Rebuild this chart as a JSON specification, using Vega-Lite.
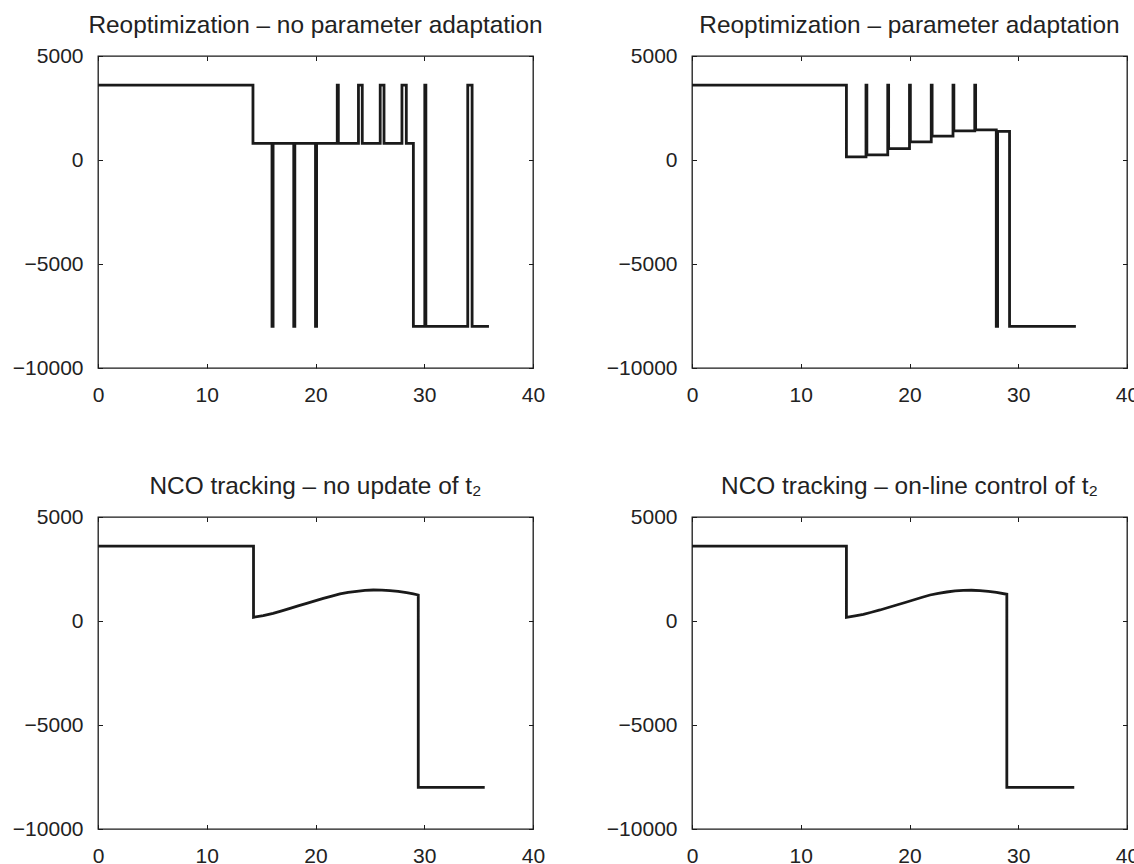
{
  "$schema": "https://vega.github.io/schema/vega-lite/v6.json",
  "background": "white",
  "padding": {"left": 11, "top": 11, "right": 0, "bottom": 0},
  "datasets": {
    "A": [
      {"i":0,"x":0,"y":3600},{"i":1,"x":14.25,"y":3600},{"i":2,"x":14.25,"y":800},{"i":3,"x":16,"y":800},
      {"i":4,"x":16,"y":-8000},{"i":5,"x":16.1,"y":-8000},{"i":6,"x":16.1,"y":800},{"i":7,"x":18,"y":800},
      {"i":8,"x":18,"y":-8000},{"i":9,"x":18.1,"y":-8000},{"i":10,"x":18.1,"y":800},{"i":11,"x":20,"y":800},
      {"i":12,"x":20,"y":-8000},{"i":13,"x":20.1,"y":-8000},{"i":14,"x":20.1,"y":800},{"i":15,"x":22,"y":800},
      {"i":16,"x":22,"y":3600},{"i":17,"x":22.1,"y":3600},{"i":18,"x":22.1,"y":800},{"i":19,"x":23.95,"y":800},
      {"i":20,"x":23.95,"y":3600},{"i":21,"x":24.3,"y":3600},{"i":22,"x":24.3,"y":800},{"i":23,"x":25.95,"y":800},
      {"i":24,"x":25.95,"y":3600},{"i":25,"x":26.3,"y":3600},{"i":26,"x":26.3,"y":800},{"i":27,"x":27.95,"y":800},
      {"i":28,"x":27.95,"y":3600},{"i":29,"x":28.35,"y":3600},{"i":30,"x":28.35,"y":800},{"i":31,"x":29,"y":800},
      {"i":32,"x":29,"y":-8000},{"i":33,"x":30.05,"y":-8000},{"i":34,"x":30.05,"y":3600},{"i":35,"x":30.15,"y":3600},
      {"i":36,"x":30.15,"y":-8000},{"i":37,"x":34,"y":-8000},{"i":38,"x":34,"y":3600},{"i":39,"x":34.4,"y":3600},
      {"i":40,"x":34.4,"y":-8000},{"i":41,"x":35.95,"y":-8000}
    ],
    "B": [
      {"i":0,"x":0,"y":3600},{"i":1,"x":14.2,"y":3600},{"i":2,"x":14.2,"y":150},{"i":3,"x":16,"y":150},
      {"i":4,"x":16,"y":3600},{"i":5,"x":16.08,"y":3600},{"i":6,"x":16.08,"y":250},{"i":7,"x":18,"y":250},
      {"i":8,"x":18,"y":3600},{"i":9,"x":18.08,"y":3600},{"i":10,"x":18.08,"y":550},{"i":11,"x":20,"y":550},
      {"i":12,"x":20,"y":3600},{"i":13,"x":20.08,"y":3600},{"i":14,"x":20.08,"y":870},{"i":15,"x":22,"y":870},
      {"i":16,"x":22,"y":3600},{"i":17,"x":22.08,"y":3600},{"i":18,"x":22.08,"y":1150},{"i":19,"x":24,"y":1150},
      {"i":20,"x":24,"y":3600},{"i":21,"x":24.08,"y":3600},{"i":22,"x":24.08,"y":1400},{"i":23,"x":26,"y":1400},
      {"i":24,"x":26,"y":3600},{"i":25,"x":26.08,"y":3600},{"i":26,"x":26.08,"y":1450},{"i":27,"x":27.98,"y":1450},
      {"i":28,"x":27.98,"y":-8000},{"i":29,"x":28.1,"y":-8000},{"i":30,"x":28.1,"y":1380},{"i":31,"x":29.2,"y":1380},
      {"i":32,"x":29.2,"y":-8000},{"i":33,"x":35.3,"y":-8000}
    ],
    "C": [
      {"i":0,"x":0,"y":3600},{"i":1,"x":14.3,"y":3600},{"i":2,"x":14.3,"y":180},{"i":3,"x":15.2,"y":260},
      {"i":4,"x":16.1,"y":370},{"i":5,"x":16.9,"y":490},{"i":6,"x":17.66,"y":610},{"i":7,"x":18.4,"y":730},
      {"i":8,"x":19.19,"y":850},{"i":9,"x":19.95,"y":970},{"i":10,"x":20.72,"y":1090},{"i":11,"x":21.5,"y":1200},
      {"i":12,"x":22.25,"y":1300},{"i":13,"x":23.0,"y":1375},{"i":14,"x":23.79,"y":1425},{"i":15,"x":24.55,"y":1470},
      {"i":16,"x":25.32,"y":1490},{"i":17,"x":26.1,"y":1485},{"i":18,"x":26.85,"y":1460},{"i":19,"x":27.6,"y":1420},
      {"i":20,"x":28.38,"y":1360},{"i":21,"x":29.0,"y":1305},{"i":22,"x":29.45,"y":1250},{"i":23,"x":29.45,"y":-8000},
      {"i":24,"x":35.56,"y":-8000}
    ],
    "D": [
      {"i":0,"x":0,"y":3600},{"i":1,"x":14.2,"y":3600},{"i":2,"x":14.2,"y":180},{"i":3,"x":15.0,"y":250},
      {"i":4,"x":15.76,"y":320},{"i":5,"x":16.5,"y":420},{"i":6,"x":17.29,"y":530},{"i":7,"x":18.05,"y":650},
      {"i":8,"x":18.82,"y":770},{"i":9,"x":19.6,"y":890},{"i":10,"x":20.35,"y":1010},{"i":11,"x":21.1,"y":1130},
      {"i":12,"x":21.89,"y":1250},{"i":13,"x":22.65,"y":1330},{"i":14,"x":23.42,"y":1394},{"i":15,"x":24.2,"y":1445},
      {"i":16,"x":24.95,"y":1476},{"i":17,"x":25.7,"y":1478},{"i":18,"x":26.48,"y":1460},{"i":19,"x":27.25,"y":1425},
      {"i":20,"x":28.0,"y":1380},{"i":21,"x":28.95,"y":1285},{"i":22,"x":28.95,"y":-8000},{"i":23,"x":35.15,"y":-8000}
    ]
  },
  "columns": 2,
  "bounds": "flush",
  "spacing": {"row": 149, "column": 159},
  "concat": [
    {
      "title": "Reoptimization – no parameter adaptation",
      "width": 435, "height": 312,
      "data": {"name": "A"},
      "layer": [
        {"mark": {"type": "line", "strokeWidth": 2.8, "color": "#1a1a1a", "strokeJoin": "miter", "strokeCap": "butt"},
         "encoding": {
           "x": {"field": "x", "type": "quantitative", "scale": {"domain": [0, 40], "nice": false}, "axis": {"orient": "bottom", "values": [0,10,20,30,40], "labelPadding": 21}},
           "y": {"field": "y", "type": "quantitative", "scale": {"domain": [-10000, 5000], "nice": false}, "axis": {"orient": "left", "values": [-10000,-5000,0,5000], "format": "d", "labelPadding": 19.5}},
           "order": {"field": "i"}
         }},
        {"mark": {"type": "point", "opacity": 0},
         "encoding": {
           "x": {"field": "x", "type": "quantitative", "axis": {"orient": "top", "values": [0,10,20,30,40], "labels": false}},
           "y": {"field": "y", "type": "quantitative", "axis": {"orient": "right", "values": [-10000,-5000,0,5000], "labels": false}}
         }}
      ],
      "resolve": {"axis": {"x": "independent", "y": "independent"}}
    },
    {
      "title": "Reoptimization – parameter adaptation",
      "width": 435, "height": 312,
      "data": {"name": "B"},
      "layer": [
        {"mark": {"type": "line", "strokeWidth": 2.8, "color": "#1a1a1a", "strokeJoin": "miter", "strokeCap": "butt"},
         "encoding": {
           "x": {"field": "x", "type": "quantitative", "scale": {"domain": [0, 40], "nice": false}, "axis": {"orient": "bottom", "values": [0,10,20,30,40], "labelPadding": 21}},
           "y": {"field": "y", "type": "quantitative", "scale": {"domain": [-10000, 5000], "nice": false}, "axis": {"orient": "left", "values": [-10000,-5000,0,5000], "format": "d", "labelPadding": 19.5}},
           "order": {"field": "i"}
         }},
        {"mark": {"type": "point", "opacity": 0},
         "encoding": {
           "x": {"field": "x", "type": "quantitative", "axis": {"orient": "top", "values": [0,10,20,30,40], "labels": false}},
           "y": {"field": "y", "type": "quantitative", "axis": {"orient": "right", "values": [-10000,-5000,0,5000], "labels": false}}
         }}
      ],
      "resolve": {"axis": {"x": "independent", "y": "independent"}}
    },
    {
      "title": "NCO tracking – no update of t₂",
      "width": 435, "height": 312,
      "data": {"name": "C"},
      "layer": [
        {"mark": {"type": "line", "strokeWidth": 2.8, "color": "#1a1a1a", "strokeJoin": "miter", "strokeCap": "butt"},
         "encoding": {
           "x": {"field": "x", "type": "quantitative", "scale": {"domain": [0, 40], "nice": false}, "axis": {"orient": "bottom", "values": [0,10,20,30,40], "labelPadding": 21}},
           "y": {"field": "y", "type": "quantitative", "scale": {"domain": [-10000, 5000], "nice": false}, "axis": {"orient": "left", "values": [-10000,-5000,0,5000], "format": "d", "labelPadding": 19.5}},
           "order": {"field": "i"}
         }},
        {"mark": {"type": "point", "opacity": 0},
         "encoding": {
           "x": {"field": "x", "type": "quantitative", "axis": {"orient": "top", "values": [0,10,20,30,40], "labels": false}},
           "y": {"field": "y", "type": "quantitative", "axis": {"orient": "right", "values": [-10000,-5000,0,5000], "labels": false}}
         }}
      ],
      "resolve": {"axis": {"x": "independent", "y": "independent"}}
    },
    {
      "title": "NCO tracking – on-line control of t₂",
      "width": 435, "height": 312,
      "data": {"name": "D"},
      "layer": [
        {"mark": {"type": "line", "strokeWidth": 2.8, "color": "#1a1a1a", "strokeJoin": "miter", "strokeCap": "butt"},
         "encoding": {
           "x": {"field": "x", "type": "quantitative", "scale": {"domain": [0, 40], "nice": false}, "axis": {"orient": "bottom", "values": [0,10,20,30,40], "labelPadding": 21}},
           "y": {"field": "y", "type": "quantitative", "scale": {"domain": [-10000, 5000], "nice": false}, "axis": {"orient": "left", "values": [-10000,-5000,0,5000], "format": "d", "labelPadding": 19.5}},
           "order": {"field": "i"}
         }},
        {"mark": {"type": "point", "opacity": 0},
         "encoding": {
           "x": {"field": "x", "type": "quantitative", "axis": {"orient": "top", "values": [0,10,20,30,40], "labels": false}},
           "y": {"field": "y", "type": "quantitative", "axis": {"orient": "right", "values": [-10000,-5000,0,5000], "labels": false}}
         }}
      ],
      "resolve": {"axis": {"x": "independent", "y": "independent"}}
    }
  ],
  "config": {
    "view": {"stroke": "#1a1a1a", "strokeWidth": 1.3},
    "axis": {
      "domain": false, "grid": false, "ticks": true, "tickSize": -4.5, "tickColor": "#1a1a1a", "tickWidth": 1,
      "labelFlush": false, "labelOverlap": false,
      "labelFont": "Liberation Sans", "labelFontSize": 21, "labelColor": "#222222", "title": null
    },
    "title": {"font": "Liberation Sans", "fontSize": 24.4, "fontWeight": "normal", "color": "#222222", "baseline": "alphabetic", "offset": 7, "anchor": "middle"}
  }
}
